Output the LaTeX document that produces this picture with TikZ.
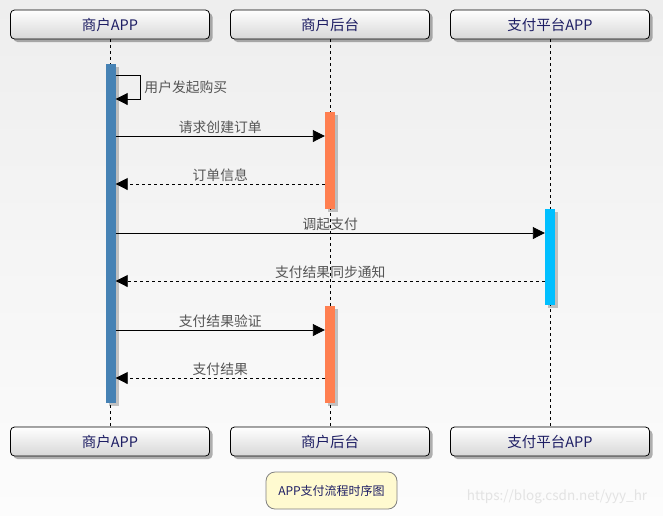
\documentclass[tikz,border=0pt]{standalone}
\usepackage{fontspec}
\setmainfont{Noto Sans CJK SC}
\usetikzlibrary{arrows.meta,shadows}

\definecolor{bgtop}{RGB}{238,238,238}
\definecolor{bgbottom}{RGB}{252,252,252}
\definecolor{boxgray}{RGB}{215,215,215}
\definecolor{navytext}{RGB}{30,30,100}
\definecolor{msgtext}{RGB}{85,85,85}
\definecolor{appblue}{RGB}{70,130,180}
\definecolor{srvorange}{RGB}{255,127,80}
\definecolor{paycyan}{RGB}{0,191,255}
\definecolor{notefill}{RGB}{255,250,208}

\tikzset{%
  actor/.style={
    draw=black, line width=0.8pt, rounded corners=4pt,
    top color=white, bottom color=boxgray,
    minimum width=199pt, minimum height=29pt, inner sep=0pt,
    text=navytext, font=\fontsize{14.5}{16}\selectfont,
    drop shadow={shadow xshift=3pt, shadow yshift=-3pt, opacity=0.3, fill=black}
  },
  activation/.style={
    draw=none, minimum width=10pt, inner sep=0pt,
    drop shadow={shadow xshift=3pt, shadow yshift=-3pt, opacity=0.22, fill=black}
  },
  lifeline/.style={draw=black, line width=0.8pt, dashed},
  call/.style={draw=black, line width=0.9pt, -{Triangle[length=12pt, width=12pt]}},
  reply/.style={call, dashed},
  msglabel/.style={above, inner sep=1.5pt, text=msgtext, font=\fontsize{13.8}{15}\selectfont},
  note/.style={
    draw=gray, line width=0.8pt, rounded corners=9pt, fill=notefill,
    minimum width=131pt, minimum height=37pt, inner sep=0pt,
    text=navytext, font=\fontsize{12}{14}\selectfont
  },
}

\begin{document}
\begin{tikzpicture}[x=1pt, y=-1pt]
  \useasboundingbox (0,0) rectangle (663,515);
  \fill[top color=bgtop, bottom color=bgbottom] (0,0) rectangle (663,515);

  % draw participants, top and bottom
  \foreach \m/\l/\x in {app/商户APP/110, srv/商户后台/330, pay/支付平台APP/550}
  {
    \node [actor] (head-\m) at (\x,24.5) {\l};
    \node [actor] (foot-\m) at (\x,441.5) {\l};
  }

  % lifelines
  \foreach \m in {app,srv,pay}
  \draw [lifeline] (head-\m.south) -- (foot-\m.north);

  % activation bars
  \node [activation, fill=appblue, minimum height=339pt] (bar-app) at (110.5,233.5) {};
  \node [activation, fill=srvorange, minimum height=97pt] (bar-srv1) at (330,160.5) {};
  \node [activation, fill=paycyan, minimum height=96pt] (bar-pay) at (550,257) {};
  \node [activation, fill=srvorange, minimum height=97pt] (bar-srv2) at (330,354.5) {};

  % self call
  \coordinate (self-turn) at (140,75);
  \draw [call] (bar-app.east |- self-turn) -| (140,99)
  node [right, pos=0.75, inner sep=4pt, text=msgtext, font=\fontsize{13.8}{15}\selectfont] {用户发起购买}
  -- (bar-app.east |- 0,99);

  % messages
  \draw [call] (bar-app.east |- 0,136) -- (bar-srv1.west |- 0,136)
  node [msglabel, midway] {请求创建订单};
  \draw [reply] (bar-srv1.west |- 0,184) -- (bar-app.east |- 0,184)
  node [msglabel, midway] {订单信息};
  \draw [call] (bar-app.east |- 0,233) -- (bar-pay.west |- 0,233)
  node [msglabel, midway] {调起支付};
  \draw [reply] (bar-pay.west |- 0,281) -- (bar-app.east |- 0,281)
  node [msglabel, midway] {支付结果同步通知};
  \draw [call] (bar-app.east |- 0,330) -- (bar-srv2.west |- 0,330)
  node [msglabel, midway] {支付结果验证};
  \draw [reply] (bar-srv2.west |- 0,378) -- (bar-app.east |- 0,378)
  node [msglabel, midway] {支付结果};

  % title note and watermark
  \node [note] (title) at (331.5,490.5) {APP支付流程时序图};
  \node [text=gray!22, font=\fontsize{13.5}{15}\selectfont] (mark) at (557,497) {https://blog.csdn.net/yyy\_hr};

\end{tikzpicture}
\end{document}
